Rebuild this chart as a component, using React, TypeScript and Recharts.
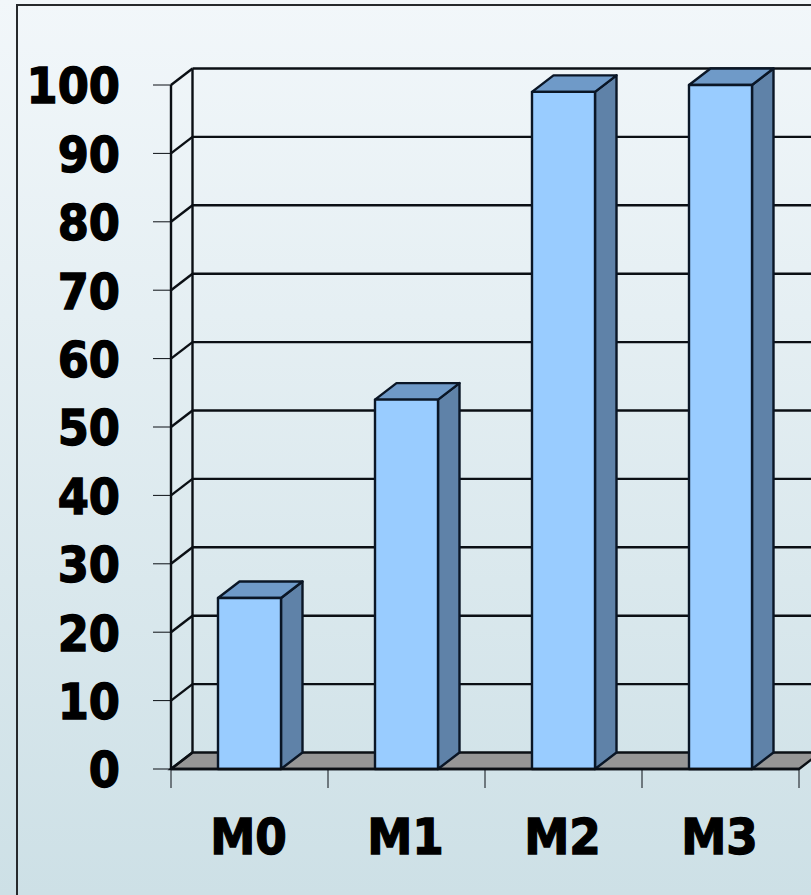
import React from "react";
import { BarChart, Bar, XAxis, YAxis, CartesianGrid } from "recharts";

const categories = ["M0", "M1", "M2", "M3"];
const values = [25, 54, 99, 100];
const yTicks = [0, 10, 20, 30, 40, 50, 60, 70, 80, 90, 100];
const rows = categories.map((name, i) => ({ name, value: values[i] }));

const DX = 21.5;
const DY = 16.5;
const INK = "#0b0f14";
const FONT = "'DejaVu Sans', Verdana, sans-serif";
const PLOT_BOTTOM = 769;
const PLOT_LEFT = 171;
const GRID_W = 2.4;

function Bar3D(props: any) {
  const { x, y, width, height } = props;
  const r = x + width;
  const b = y + height;
  const stroke = { stroke: "#0a1626", strokeWidth: 2.4, strokeLinejoin: "round" as const };
  return (
    <g>
      <polygon points={`${r},${y} ${r + DX},${y - DY} ${r + DX},${b - DY} ${r},${b}`} fill="#5f82a8" {...stroke} />
      <polygon points={`${x},${y} ${x + DX},${y - DY} ${r + DX},${y - DY} ${r},${y}`} fill="#6f9ac8" {...stroke} />
      <rect x={x} y={y} width={width} height={height} fill="#99ccff" {...stroke} />
    </g>
  );
}

function GridH(props: any) {
  const { x1, x2, y1 } = props;
  const isFloor = Math.abs(y1 - PLOT_BOTTOM) < 1;
  return (
    <g key={props.key}>
      {isFloor && (
        <polygon
          points={`${x1},${y1} ${x1 + DX},${y1 - DY} ${x2 + DX},${y1 - DY} ${x2},${y1}`}
          fill="#969696"
          stroke={INK}
          strokeWidth={GRID_W}
        />
      )}
      {!isFloor && <line x1={x1 + DX} x2={x2 + DX} y1={y1 - DY} y2={y1 - DY} stroke={INK} strokeWidth={GRID_W} />}
      <line x1={x1} x2={x1 + DX} y1={y1} y2={y1 - DY} stroke={INK} strokeWidth={GRID_W} />
    </g>
  );
}

function GridV(props: any) {
  const { x1, y1, y2 } = props;
  return (
    <g key={props.key}>
      <line x1={x1 + DX} x2={x1 + DX} y1={y1 - DY} y2={y2 - DY} stroke={INK} strokeWidth={GRID_W} />
    </g>
  );
}

function YTick(props: any) {
  const { y, payload } = props;
  return (
    <g>
      <line x1={153} x2={PLOT_LEFT} y1={y} y2={y} stroke={INK} strokeWidth={1} />
      <g transform={`translate(120,${y + 1}) scale(1.03,1.14)`}>
        <text
          textAnchor="end"
          dominantBaseline="central"
          fontFamily={FONT}
          fontWeight={700}
          fontSize={43.5}
          fill="#000"
          stroke="#000"
          strokeWidth={1.2}
        >
          {payload.value}
        </text>
      </g>
    </g>
  );
}

function XTick(props: any) {
  const { x, payload, index } = props;
  const half = payload.offset ?? 78.5;
  const top = PLOT_BOTTOM;
  return (
    <g>
      <line x1={x - half} x2={x - half} y1={top} y2={top + 19} stroke={INK} strokeWidth={1} />
      {index === categories.length - 1 && (
        <line x1={x + half} x2={x + half} y1={top} y2={top + 19} stroke={INK} strokeWidth={1} />
      )}
      <g transform={`translate(${x - 1},854) scale(1.03,1.14)`}>
        <text
          textAnchor="middle"
          fontFamily={FONT}
          fontWeight={700}
          fontSize={44}
          fill="#000"
          stroke="#000"
          strokeWidth={1.2}
        >
          {payload.value}
        </text>
      </g>
    </g>
  );
}

export default function App() {
  return (
    <div
      style={{
        position: "fixed",
        left: 0,
        top: 0,
        width: 811,
        height: 895,
        overflow: "hidden",
        background: "linear-gradient(to bottom, #f2f7fa, #cde0e6)",
      }}
    >
      <div
        style={{
          position: "absolute",
          left: 16,
          top: 4,
          right: 0,
          bottom: 0,
          borderLeft: "2px solid #26292c",
          borderTop: "2px solid #26292c",
        }}
      />
      <div style={{ position: "absolute", left: 0, top: 0 }}>
        <BarChart
          width={850}
          height={895}
          data={rows}
          barSize={63}
          margin={{ top: 85, right: 51, bottom: 0, left: 0 }}
        >
          <CartesianGrid horizontal={GridH} vertical={GridV} verticalPoints={[PLOT_LEFT]} />
          <XAxis
            dataKey="name"
            height={126}
            interval={0}
            tickLine={false}
            tick={<XTick />}
            axisLine={{ stroke: INK, strokeWidth: GRID_W }}
          />
          <YAxis
            width={171}
            domain={[0, 100]}
            ticks={yTicks}
            interval={0}
            tickLine={false}
            tick={<YTick />}
            axisLine={{ stroke: INK, strokeWidth: GRID_W }}
          />
          <Bar dataKey="value" isAnimationActive={false} shape={<Bar3D />} />
        </BarChart>
      </div>
    </div>
  );
}
